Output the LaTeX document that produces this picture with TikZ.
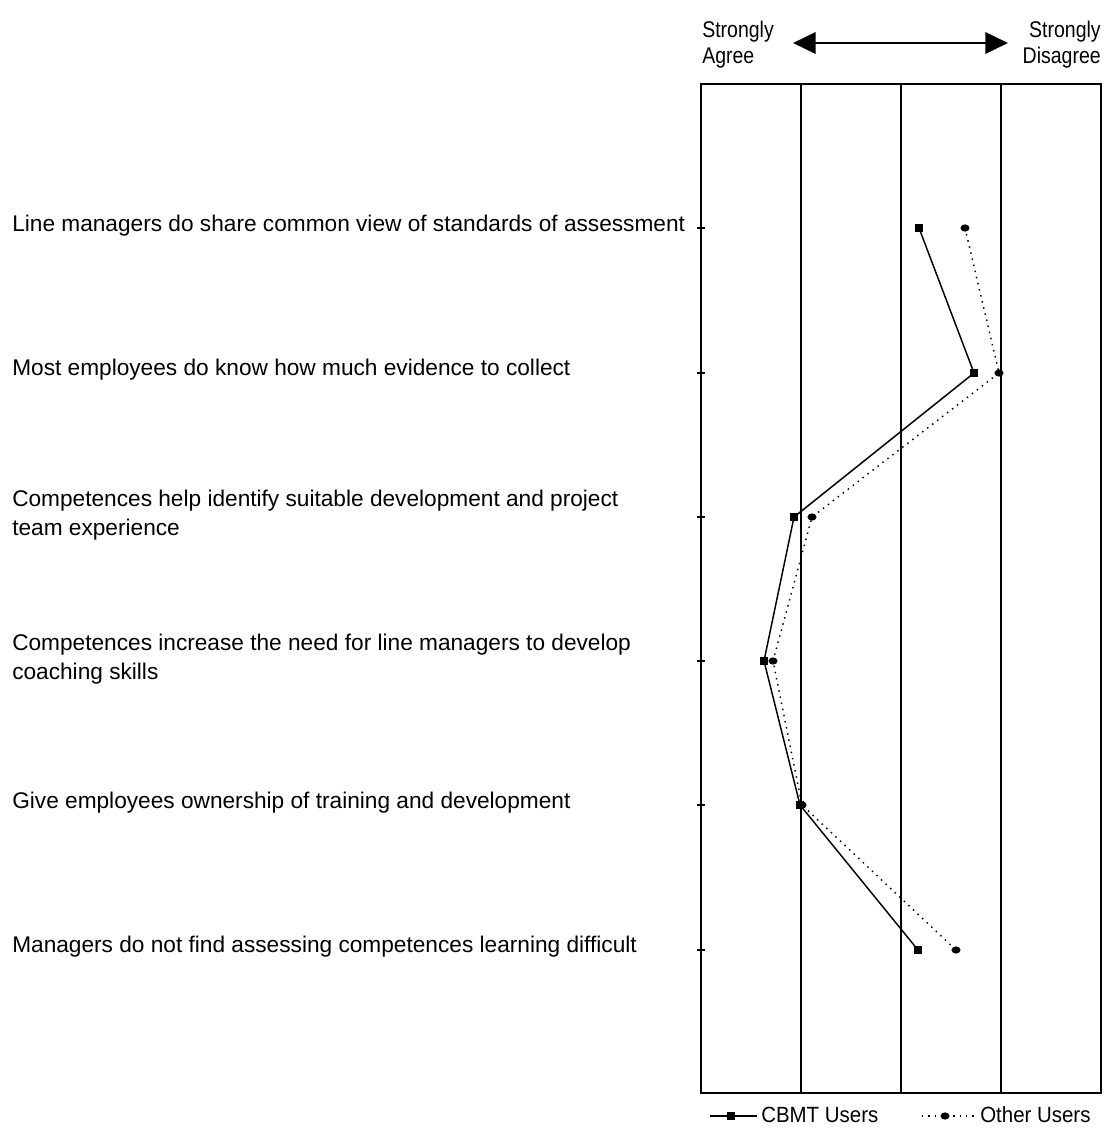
\documentclass[tikz,border=0pt]{standalone}
\usepackage{fontspec}
\setmainfont{Liberation Sans}
\newfontfamily\narrowsans[FakeStretch=0.86]{Liberation Sans}
\newfontfamily\keysans[FakeStretch=0.93]{Liberation Sans}
\usetikzlibrary{arrows.meta,shapes.geometric}
\begin{document}
\begin{tikzpicture}[x=0.75pt,y=-0.75pt,
  frame/.style={line width=1.2pt},
  midline/.style={line width=2.2pt},
  gridline/.style={line width=0.9pt},
  tickmark/.style={line width=0.9pt},
  item/.style={anchor=west,align=left,inner sep=0pt,font=\fontsize{17}{21.8}\selectfont},
  head/.style={inner sep=0pt,font=\narrowsans\fontsize{17}{19.5}\selectfont},
  keytext/.style={inner sep=0pt,anchor=west,font=\keysans\fontsize{16.5}{19.5}\selectfont},
  cbmt/.style={line width=1.1pt},
  other/.style={line width=1.1pt,dash pattern=on 1.1pt off 3.6pt},
  sq/.style={draw=none,fill=black,minimum size=6.5pt,inner sep=0pt},
  dot/.style={draw=none,fill=black,ellipse,minimum width=6.8pt,minimum height=5.4pt,inner sep=0pt}]
\useasboundingbox (0,0) rectangle (1106,1131);

% scale header
\node[head,anchor=north west,align=left] (agree) at (702,21) {Strongly\\Agree};
\node[head,anchor=north east,align=right] (disagree) at (1101,21) {Strongly\\Disagree};
\coordinate (arrL) at (793,43);
\coordinate (arrR) at (1008,43);
\draw[line width=2pt,{Triangle[length=17pt,width=16pt]}-{Triangle[length=17pt,width=16pt]}] (arrL) -- (arrR);

% chart frame and grid
\coordinate (bl) at (701,1093);
\coordinate (tr) at (1101,84);
\draw[frame] (bl) rectangle (tr);
\draw[gridline] (801,84) -- (801,1093);
\draw[midline] (901,84) -- (901,1093);
\draw[gridline] (1001,84) -- (1001,1093);

% statements and their tick marks
\foreach \yy in {228,373,517,661,805,950}
  \draw[tickmark] (697,\yy) -- (705,\yy);
\node[item] (s1) at (12,226) {Line managers do share common view of standards of assessment};
\node[item] (s2) at (12,370) {Most employees do know how much evidence to collect};
\node[item] (s3) at (12,515) {Competences help identify suitable development and project\\team experience};
\node[item] (s4) at (12,659) {Competences increase the need for line managers to develop\\coaching skills};
\node[item] (s5) at (12,803) {Give employees ownership of training and development};
\node[item] (s6) at (12,947) {Managers do not find assessing competences learning difficult};

% other users
\node[dot] (o1) at (965,228) {};
\node[dot] (o2) at (999,373) {};
\node[dot] (o3) at (812,517) {};
\node[dot] (o4) at (773,661) {};
\node[dot] (o5) at (802,805) {};
\node[dot] (o6) at (956,950) {};
\draw[other] (o1.center) -- (o2.center) -- (o3.center) -- (o4.center) -- (o5.center) -- (o6.center);

% CBMT users
\node[sq] (c1) at (919,228) {};
\node[sq] (c2) at (974,373) {};
\node[sq] (c3) at (794,517) {};
\node[sq] (c4) at (764,661) {};
\node[sq] (c5) at (800,805) {};
\node[sq] (c6) at (918,950) {};
\draw[cbmt] (c1.center) -- (c2.center) -- (c3.center) -- (c4.center) -- (c5.center) -- (c6.center);

% legend
\coordinate (la) at (710,1116);
\coordinate (lb) at (757,1116);
\draw[cbmt] (la) -- (lb);
\node[sq] (lsq) at (731,1116) {};
\node[keytext] (lcbmt) at (761,1115) {CBMT Users};
\coordinate (lc) at (922,1116);
\coordinate (ld) at (974,1116);
\draw[other] (lc) -- (ld);
\node[dot] (ldot) at (945,1116) {};
\node[keytext] (lother) at (980,1115) {Other Users};
\end{tikzpicture}
\end{document}
